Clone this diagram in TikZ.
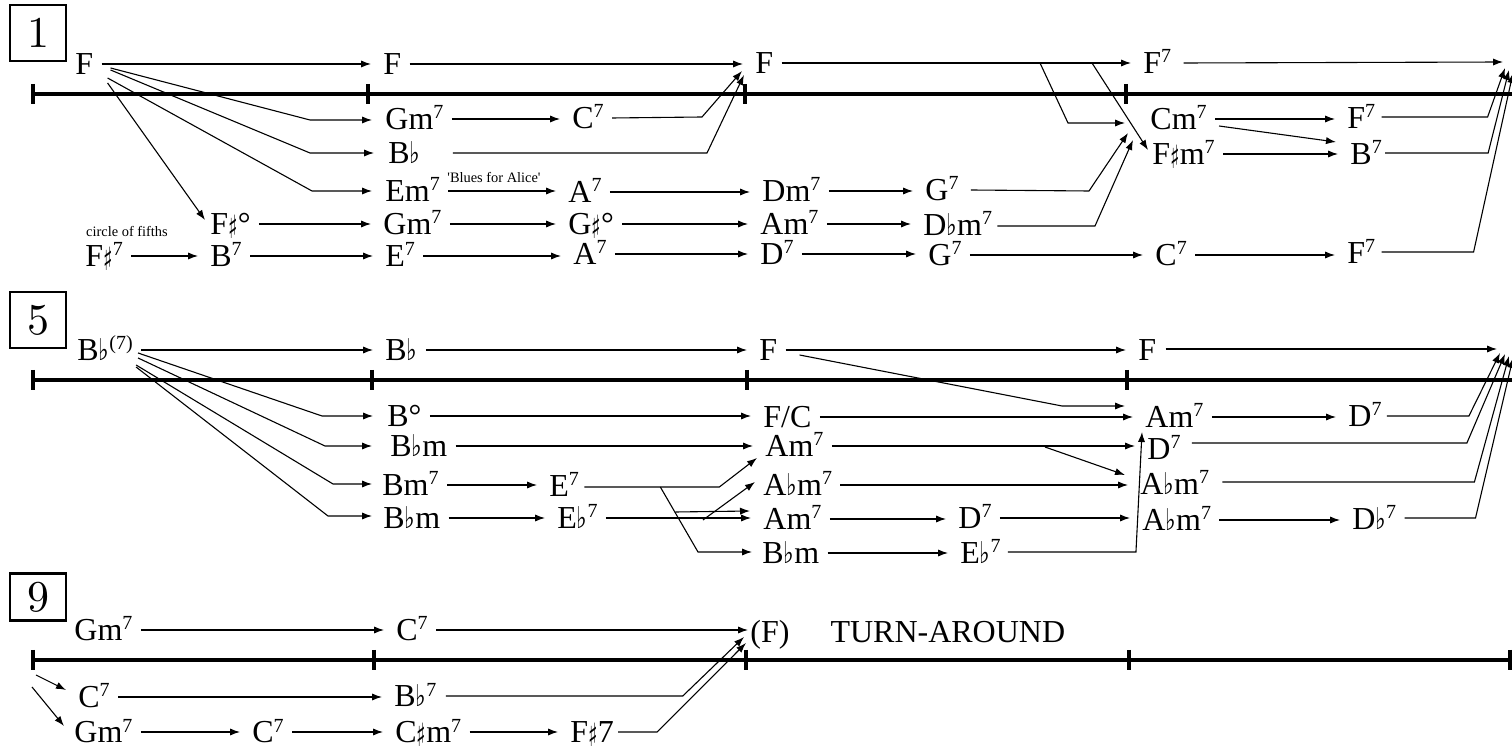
\documentclass[tikz,border=0pt]{standalone}
\usepackage{fontspec}
\usetikzlibrary{calc,arrows.meta}
\newfontfamily\chf{Liberation Serif}
\newfontfamily\symf{DejaVu Sans}
\newfontfamily\boxf{lmroman10-regular.otf}
\newcommand\chfl{\scalebox{0.75}[1]{\symf\fontsize{15}{15}\selectfont ♭}}
\newcommand\chsh{\raisebox{-1.6pt}{\scalebox{0.62}[1]{\symf\fontsize{16}{16}\selectfont ♯}}}
\newcommand\chsv{\raisebox{5.5pt}{\fontsize{10}{10}\selectfont 7}}
\newcommand\chsvp{\raisebox{5.5pt}{\fontsize{10}{10}\selectfont (7)}}
\tikzset{
  ch/.style={inner sep=0pt, text height=11pt, text depth=0pt, anchor=base west, font=\chf\fontsize{16}{18}\selectfont},
  arr/.style={-{Latex[length=5pt,width=3.6pt]}, line width=0.55pt, shorten <=4pt, shorten >=6pt},
  arrx/.style={-{Latex[length=5pt,width=3.6pt]}, line width=0.55pt},
  tl/.style={line width=1.6pt},
  numbox/.style={draw, line width=1.4pt, minimum width=28pt, minimum height=28pt, inner sep=0pt, font=\boxf\fontsize{22}{22}\selectfont},
  lbl/.style={font=\chf\fontsize{7.2}{8}\selectfont, inner sep=0pt}
}
\begin{document}
\begin{tikzpicture}[x=0.5pt,y=-0.5pt]
\useasboundingbox (0,0) rectangle (1512,753);
% ---------- boxes ----------
\node[numbox] (n1) at (38,33) {1};
\node[numbox] (n5) at (38,320) {5};
\node[numbox, minimum height=23.5pt] (n9) at (38,597) {9};
% ---------- timelines ----------
\foreach \y/\xa/\xb/\xc in {94/368/745/1126, 380/372/747/1127}{
  \draw[tl] (33,\y) -- (1512,\y);
  \foreach \x in {33,\xa,\xb,\xc}{\draw[tl] (\x,\y-10) -- (\x,\y+10);}
}
\draw[tl] (33,660) -- (1511,660);
\foreach \x in {33,374,746,1129,1510}{\draw[tl] (\x,650) -- (\x,670);}
% ---------- section 1 nodes ----------
\node[ch] (a1) at (75,75) {F};
\node[ch] (a2) at (383,75) {F};
\node[ch] (a3) at (755,74) {F};
\node[ch] (a4) at (1143,74) {F\chsv};
\node[ch] (b1) at (385,130) {Gm\chsv};
\node[ch] (b2) at (572,129) {C\chsv};
\node[ch] (c1) at (388,164) {B\chfl};
\node[ch] (d1) at (385,202) {Em\chsv};
\node[ch] (d2) at (568,203) {A\chsv};
\node[ch] (d3) at (762,202) {Dm\chsv};
\node[ch] (d4) at (925,201) {G\chsv};
\node[ch] (e1) at (210,235) {F\chsh°};
\node[ch] (e2) at (383,235) {Gm\chsv};
\node[ch] (e3) at (568,235) {G\chsh°};
\node[ch] (e4) at (760,235) {Am\chsv};
\node[ch] (e5) at (923,236) {D\chfl m\chsv};
\node[ch] (f1) at (85,267) {F\chsh\chsv};
\node[ch] (f2) at (210,267) {B\chsv};
\node[ch] (f3) at (385,267) {E\chsv};
\node[ch] (f4) at (573,265) {A\chsv};
\node[ch] (f5) at (760,265) {D\chsv};
\node[ch] (f6) at (928,266) {G\chsv};
\node[ch] (f7) at (1155,266) {C\chsv};
\node[ch] (f8) at (1347,264) {F\chsv};
\node[ch] (g1) at (1150,130) {Cm\chsv};
\node[ch] (g2) at (1347,129) {F\chsv};
\node[ch] (h1) at (1152,165) {F\chsh m\chsv};
\node[ch] (h2) at (1350,165) {B\chsv};
\node[lbl] (cof) at (127,232) {circle of fifths};
\node[lbl] (bfa) at (494,178) {'Blues for Alice'};
\coordinate (R1a) at (1503,62);
\coordinate (R1b) at (1505,68);
\coordinate (R1c) at (1509,70);
\coordinate (R1d) at (1513,73);
% ---------- section 1 connectors ----------
\draw[arr] (a1.east) -- (a1.east -| a2.west);
\draw[arrx] ($(a1.east)+(17,4)$) -- ($(b1.west)+(-75,1)$) -- ($(b1.west)+(-13,1)$);
\draw[arrx] ($(a1.east)+(17,6)$) -- ($(c1.west)+(-78,0)$) -- ($(c1.west)+(-14,0)$);
\draw[arrx] ($(a1.east)+(14,14)$) -- ($(d1.west)+(-73,0)$) -- ($(d1.west)+(-13,0)$);
\draw[arrx] ($(a1.east)+(14,19)$) -- ($(e1.west)+(-5,-4)$);
\draw[arr] (a2.east) -- (a2.east -| a3.west);
\draw[arr] (b1.east) -- (b1.east -| b2.west);
\draw[arrx] ($(b2.east)+(8,0)$) -- ($(a3.west)+(-53,54)$) -- ($(a3.west)+(-13,8)$);
\draw[arrx] ($(c1.east)+(32,0)$) -- ($(a3.west)+(-48,90)$) -- ($(a3.west)+(-11,12)$);
\draw[arr] (d1.east) -- (d1.east -| d2.west);
\draw[arr] (d2.east) -- (d2.east -| d3.west);
\draw[arr] (d3.east) -- (d3.east -| d4.west);
\draw[arrx] ($(d4.east)+(12,0)$) -- ($(g1.west)+(-61,72)$) -- ($(g1.west)+(-22,14)$);
\draw[arr] (e1.east) -- (e1.east -| e2.west);
\draw[arr] (e2.east) -- (e2.east -| e3.west);
\draw[arr] (e3.east) -- (e3.east -| e4.west);
\draw[arr] (e4.east) -- (e4.east -| e5.west);
\draw[arrx] ($(e5.east)+(5,1)$) -- ($(g1.west)+(-55,107)$) -- ($(g1.west)+(-17,21)$);
\draw[arr] (f1.east) -- (f1.east -| f2.west);
\draw[arr] (f2.east) -- (f2.east -| f3.west);
\draw[arr] (f3.east) -- (f3.east -| f4.west);
\draw[arr] (f4.east) -- (f4.east -| f5.west);
\draw[arr] (f5.east) -- (f5.east -| f6.west);
\draw[arr] (f6.east) -- (f6.east -| f7.west);
\draw[arr] (f7.east) -- (f7.east -| f8.west);
\draw[arrx] ($(f8.east)+(6,-1)$) -- ($(f8.east)+(98,-1)$) -- (R1d);
\draw[arr] (a3.east) -- (a3.east -| a4.west);
\draw[arrx] ($(a4.east)+(12,0)$) -- (R1a);
\draw[arrx] ($(a4.west)+(-103,0)$) -- ($(g1.west)+(-82,4)$) -- ($(g1.west)+(-25,4)$);
\draw[arrx] ($(a4.west)+(-51,0)$) -- ($(h1.west)+(-4,-4)$);
\draw[arr] (g1.east) -- (g1.east -| g2.west);
\draw[arrx] ($(g1.east)+(12,7)$) -- ($(h2.west)+(-14,-12)$);
\draw[arr] (h1.east) -- (h1.east -| h2.west);
\draw[arrx] ($(g2.east)+(6,-1)$) -- ($(g2.east)+(112,-1)$) -- (R1b);
\draw[arrx] ($(h2.east)+(3,-1)$) -- ($(h2.east)+(106,-1)$) -- (R1c);
% ---------- section 5 nodes ----------
\node[ch] (p1) at (77,361) {B\chfl\chsvp};
\node[ch] (p2) at (385,361) {B\chfl};
\node[ch] (p3) at (759,361) {F};
\node[ch] (p4) at (1138,361) {F};
\node[ch] (q1) at (387,427) {B°};
\node[ch] (q2) at (763,428) {F/C};
\node[ch] (q3) at (1145,428) {Am\chsv};
\node[ch] (q4) at (1348,427) {D\chsv};
\node[ch] (r1) at (390,457) {B\chfl m};
\node[ch] (r2) at (765,457) {Am\chsv};
\node[ch] (r3) at (1147,460) {D\chsv};
\node[ch] (s1) at (382,496) {Bm\chsv};
\node[ch] (s2) at (549,497) {E\chsv};
\node[ch] (s3) at (763,496) {A\chfl m\chsv};
\node[ch] (s4) at (1140,495) {A\chfl m\chsv};
\node[ch] (t1) at (383,529) {B\chfl m};
\node[ch] (t2) at (557,529) {E\chfl\chsv};
\node[ch] (t3) at (763,530) {Am\chsv};
\node[ch] (t4) at (958,529) {D\chsv};
\node[ch] (t5) at (1142,531) {A\chfl m\chsv};
\node[ch] (t6) at (1352,530) {D\chfl\chsv};
\node[ch] (u1) at (762,564) {B\chfl m};
\node[ch] (u2) at (960,564) {E\chfl\chsv};
\coordinate (R5a) at (1497,349);
\coordinate (R5b) at (1500,353);
\coordinate (R5c) at (1505,354);
\coordinate (R5d) at (1509,356);
\coordinate (R5e) at (1513,358);
% ---------- section 5 connectors ----------
\draw[arr] (p1.east) -- (p1.east -| p2.west);
\draw[arrx] ($(p1.east)+(5,3)$) -- ($(q1.west)+(-65,0)$) -- ($(q1.west)+(-14,0)$);
\draw[arrx] ($(p1.east)+(5,8)$) -- ($(r1.west)+(-65,0)$) -- ($(r1.west)+(-18,0)$);
\draw[arrx] ($(p1.east)+(3,15)$) -- ($(s1.west)+(-49,-1)$) -- ($(s1.west)+(-10,-1)$);
\draw[arrx] ($(p1.east)+(3,17)$) -- ($(t1.west)+(-55,-2)$) -- ($(t1.west)+(-11,-2)$);
\draw[arr] (p2.east) -- (p2.east -| p3.west);
\draw[arr] (p3.east) -- (p3.east -| p4.west);
\draw[arrx] ($(p4.east)+(9,-1)$) -- (R5a);
\draw[arrx] ($(p3.east)+(22,5)$) -- ($(q3.west)+(-83,-11)$) -- ($(q3.west)+(-20,-11)$);
\draw[arr] (q1.east) -- (q1.east -| q2.west);
\draw[arr] (q2.east) -- (q2.east -| q3.west);
\draw[arr] (q3.east) -- (q3.east -| q4.west);
\draw[arrx] ($(q4.east)+(5,0)$) -- ($(q4.east)+(87,0)$) -- (R5b);
\draw[arr] (r1.east) -- (r1.east -| r2.west);
\draw[arr] (r2.east) -- (r2.east -| r3.west);
\draw[arrx] ($(r3.west)+(-102,-2)$) -- ($(s4.west)+(-15,-9)$);
\draw[arrx] ($(r3.east)+(11,-6)$) -- ($(r3.east)+(286,-6)$) -- (R5c);
\draw[arr] (s1.east) -- (s1.east -| s2.west);
\draw[arrx] ($(s2.east)+(5,1)$) -- ($(s2.east)+(140,1)$) -- ($(r2.west)+(-8,12)$);
\draw[arrx] ($(s2.east)+(81,1)$) -- ($(u1.west)+(-64,-1)$) -- ($(u1.west)+(-10,-1)$);
\draw[arrx] ($(s2.east)+(96,26)$) -- ($(t3.west)+(-13,-8)$);
\draw[arr] (s3.east) -- (s3.east -| s4.west);
\draw[arrx] ($(s4.east)+(13,-2)$) -- ($(s4.east)+(265,-2)$) -- (R5d);
\draw[arr] (t1.east) -- (t1.east -| t2.west);
\draw[arr] (t2.east) -- (t2.east -| t3.west);
\draw[arrx] ($(t2.east)+(105,2)$) -- ($(s3.west)+(-8,-3)$);
\draw[arr] (t3.east) -- (t3.east -| t4.west);
\draw[arr] (t4.east) -- (t4.east -| t5.west);
\draw[arr] (t5.east) -- (t5.east -| t6.west);
\draw[arrx] ($(t6.east)+(8,-1)$) -- ($(t6.east)+(79,-1)$) -- (R5e);
\draw[arr] (u1.east) -- (u1.east -| u2.west);
\draw[arrx] ($(u2.east)+(7,-1)$) -- ($(u2.east)+(135,-1)$) -- ($(q3.west)+(-3,15)$);
% ---------- section 9 ----------
\coordinate (T9s) at (33,660);
\node[ch] (v1) at (74,641) {Gm\chsv};
\node[ch] (v2) at (396,641) {C\chsv};
\node[ch] (v3) at (750,643) {(F)\hspace{20.5pt}TURN-AROUND};
\node[ch] (w1) at (78,708) {C\chsv};
\node[ch] (w2) at (394,707) {B\chfl\chsv};
\node[ch] (x1) at (74,743) {Gm\chsv};
\node[ch] (x2) at (252,743) {C\chsv};
\node[ch] (x3) at (395,743) {C\chsh m\chsv};
\node[ch] (x4) at (570,743) {F\chsh 7};
\draw[arr] (v1.east) -- (v1.east -| v2.west);
\draw[arr, shorten >=1pt] (v2.east) -- (v2.east -| v3.west);
\draw[arr] (w1.east) -- (w1.east -| w2.west);
\draw[arrx] ($(w2.east)+(9,0)$) -- ($(w2.east)+(246,0)$) -- ($(v3.west)+(-6,5)$);
\draw[arr] (x1.east) -- (x1.east -| x2.west);
\draw[arr] (x2.east) -- (x2.east -| x3.west);
\draw[arr] (x3.east) -- (x3.east -| x4.west);
\draw[arrx] ($(x4.east)+(4,0)$) -- ($(x4.east)+(43,0)$) -- ($(v3.west)+(-4,11)$);
\draw[arrx] ($(T9s)+(3,15)$) -- ($(w1.west)+(-12,-7)$);
\draw[arrx] ($(T9s)+(-1,27)$) -- ($(x1.west)+(-10,-6)$);
\end{tikzpicture}
\end{document}
